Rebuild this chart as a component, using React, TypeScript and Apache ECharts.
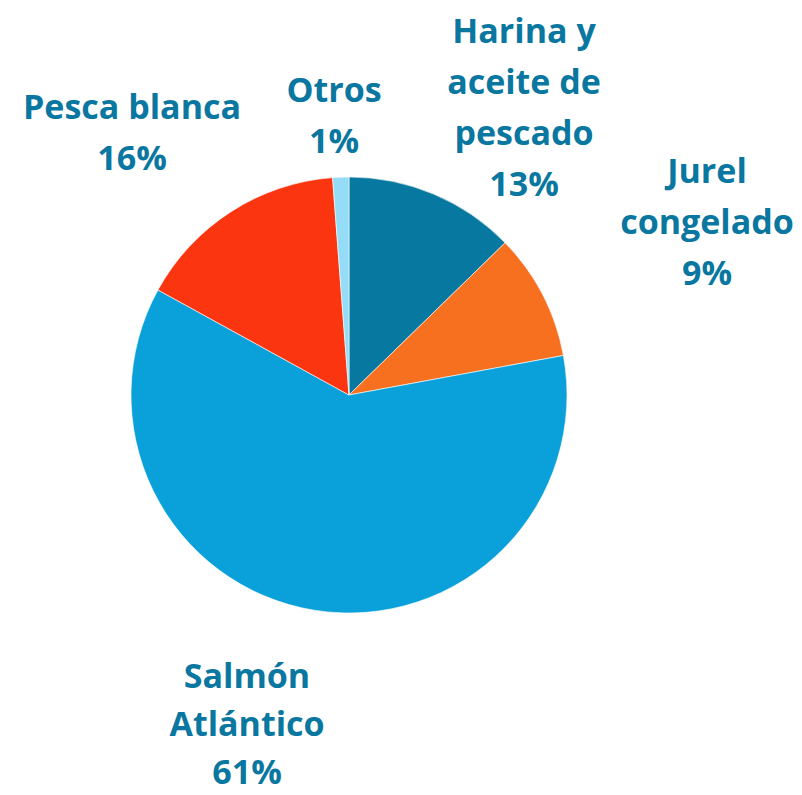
import React, { useEffect, useRef } from "react";
import * as echarts from "echarts";

const categories = [
  "Harina y\naceite de\npescado",
  "Jurel\ncongelado",
  "Salmón\nAtlántico",
  "Pesca blanca",
  "Otros",
];
const values = [12.7, 9.4, 60.9, 15.8, 1.2];
const colors = ["#07789f", "#f7701f", "#0aa0d9", "#fb3510", "#95dcf7"];
// label anchor (center) positions in page px
const labelX = [524, 707, 247, 132, 334];
const labelY = [106, 221, 723, 131, 114];
const labelLineHeight = [51, 51, 48, 51, 51];

export default function App() {
  const ref = useRef<HTMLDivElement>(null);
  useEffect(() => {
    if (!ref.current) return;
    const chart = echarts.init(ref.current, null, { renderer: "svg" });
    chart.setOption({
      animation: false,
      backgroundColor: "#ffffff",
      series: [
        {
          type: "pie",
          center: [349, 395],
          radius: [0, 218],
          startAngle: 90,
          clockwise: true,
          data: categories.map((c, i) => ({
            name: c,
            value: values[i],
            itemStyle: { color: colors[i] },
            label: { lineHeight: labelLineHeight[i] },
          })),
          itemStyle: { borderColor: "#ffffff", borderWidth: 0.6 },
          label: {
            show: true,
            position: "outside",
            formatter: (p: any) => `${p.name}\n${Math.round(p.value)}%`,
            color: "#0a77a0",
            fontFamily: "Open Sans",
            fontWeight: "bold",
            fontSize: 34,
            align: "center",
            overflow: "none",
            width: 400,
          },
          labelLine: { show: false },
          labelLayout: (params: any) => ({
            x: labelX[params.dataIndex],
            y: labelY[params.dataIndex],
            align: "center",
            verticalAlign: "middle",
          }),
          emphasis: { disabled: true },
        },
      ],
    });
    return () => chart.dispose();
  }, []);
  return (
    <div
      ref={ref}
      style={{ position: "fixed", left: 0, top: 0, width: 802, height: 795 }}
    />
  );
}
